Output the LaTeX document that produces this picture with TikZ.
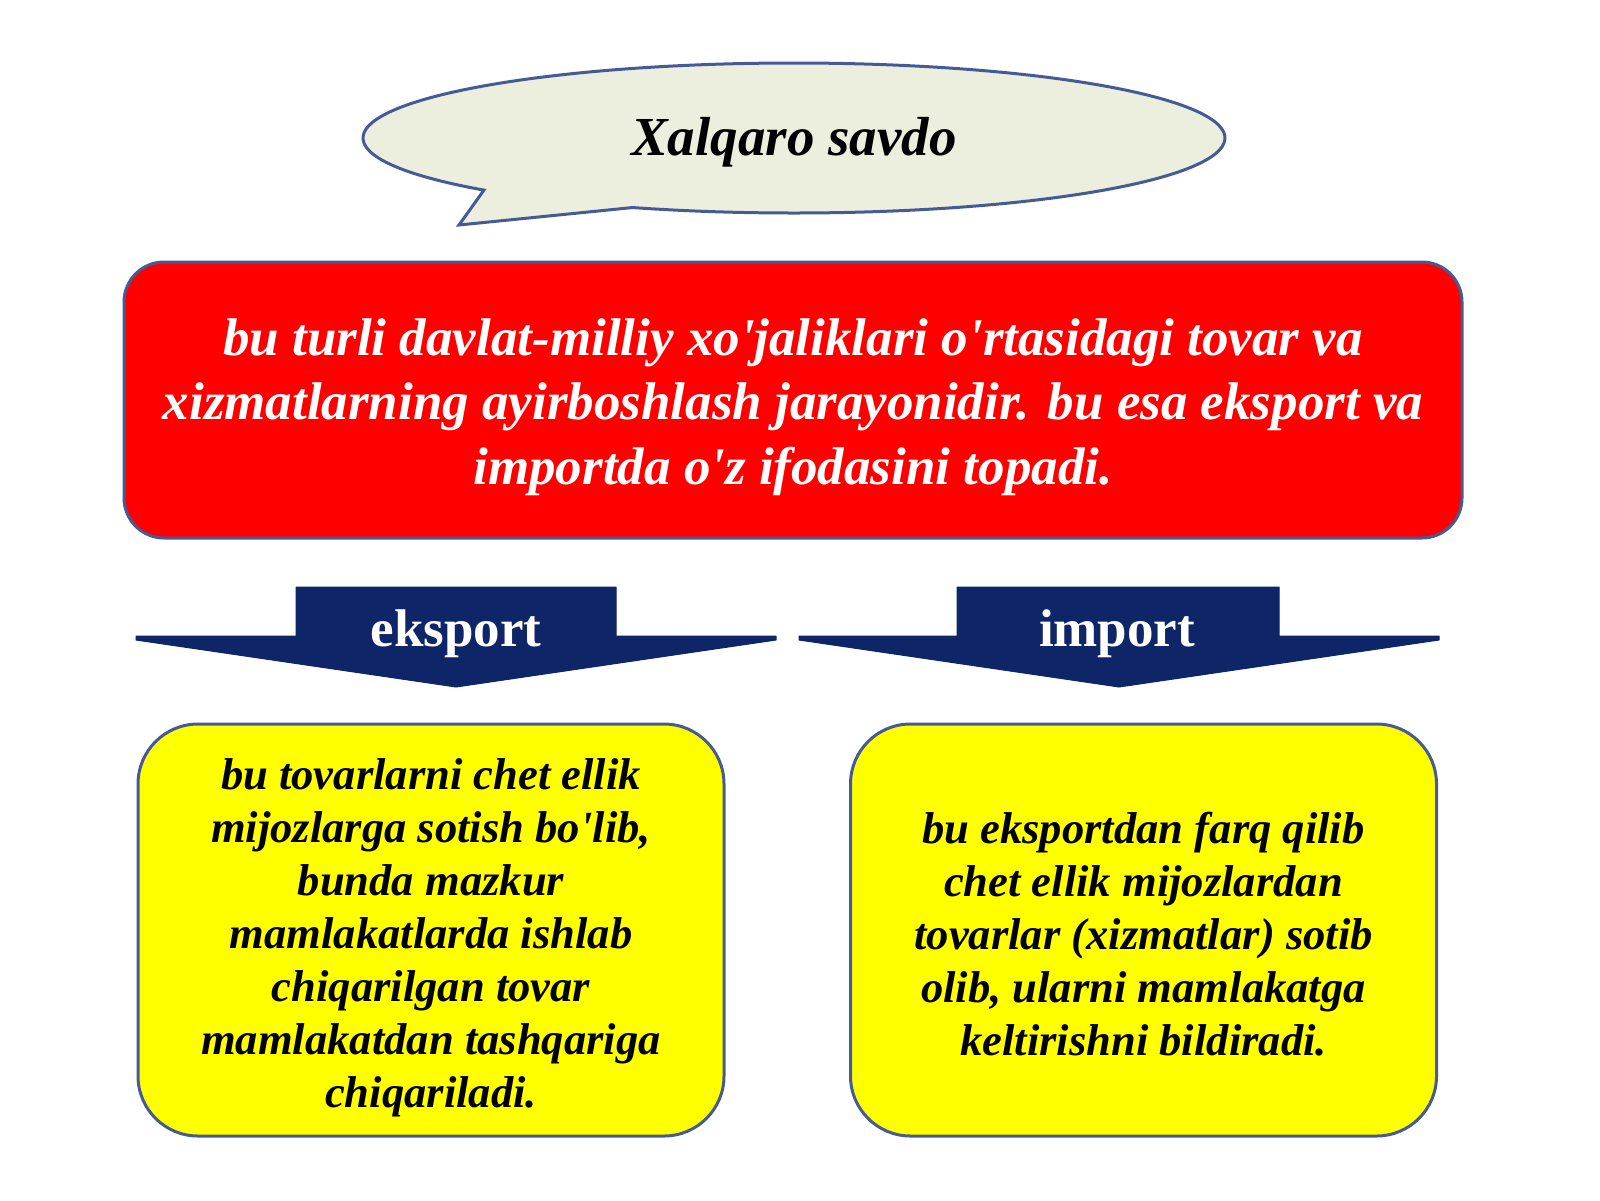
\documentclass[tikz,border=0pt]{standalone}
\usepackage{fontspec}
\setmainfont{Liberation Serif}
\usetikzlibrary{calc}
\definecolor{edgeblue}{RGB}{70,90,150}
\definecolor{navy}{RGB}{14,38,104}
\definecolor{bubble}{RGB}{237,239,222}
\definecolor{redfill}{RGB}{255,0,0}
\definecolor{yellowfill}{RGB}{255,255,0}
\newcommand{\ap}{\textquotesingle}
\tikzset{
  redbox/.style={draw=edgeblue, line width=3pt, fill=redfill, rounded corners=40pt,
    minimum width=1338pt, minimum height=276pt, inner sep=0pt},
  redtext/.style={align=center, text=white,
    font=\fontsize{53}{64.5}\selectfont\bfseries\itshape, inner sep=0pt},
  yellowbox/.style={draw=edgeblue, line width=3pt, fill=yellowfill, rounded corners=60pt,
    minimum width=586pt, minimum height=412pt, inner sep=0pt},
  yellowtext/.style={align=center, text=black,
    font=\fontsize{44.6}{53}\selectfont\bfseries\itshape, inner sep=0pt},
  arrowshape/.style={fill=navy, draw=navy, line width=1pt, line join=round},
  arrowlabel/.style={text=white, font=\fontsize{53}{60}\selectfont\bfseries, inner sep=0pt},
  bubbleshape/.style={draw=edgeblue, line width=3pt, fill=bubble, line join=miter},
  titletext/.style={font=\fontsize{55}{60}\selectfont\bfseries\itshape, inner sep=0pt}
}
\begin{document}
\begin{tikzpicture}[x=1pt,y=-1pt]
\useasboundingbox (0,0) rectangle (1600,1200);
% speech bubble
\coordinate (bc) at (794,138);
\coordinate (tip) at (459,225);
\draw[bubbleshape] (tip) -- ($(bc)+(136:431 and 75)$) arc[start angle=136, end angle=472, x radius=431, y radius=75] -- cycle;
\node[titletext] (title) at (794,142) {Xalqaro savdo};
% red definition box
\node[redbox] (def) at (793,400) {};
\node[redtext] (deftext) at (793,407) {bu turli davlat-milliy xo\ap jaliklari o\ap rtasidagi tovar va\\xizmatlarning ayirboshlash jarayonidir. bu esa eksport va\\importda o\ap z ifodasini topadi.};
% arrows
\draw[arrowshape] (136,636) -- (296,636) -- (296,587) -- (616,587) -- (616,636) -- (776,636) -- (776,640) -- (456,687) -- (136,640) -- cycle;
\node[arrowlabel] (eks) at (456,634) {eksport};
\draw[arrowshape] (799,636) -- (957,636) -- (957,587) -- (1279,587) -- (1279,636) -- (1439,636) -- (1439,640) -- (1119,687) -- (799,640) -- cycle;
\node[arrowlabel] (imp) at (1117,634) {import};
% yellow boxes
\node[yellowbox] (left) at (431,930) {};
\node[yellowtext] (lefttext) at (431,938) {bu tovarlarni chet ellik\\mijozlarga sotish bo\ap lib,\\bunda mazkur\\mamlakatlarda ishlab\\chiqarilgan tovar\\mamlakatdan tashqariga\\chiqariladi.};
\node[yellowbox] (right) at (1143.5,930) {};
\node[yellowtext] (righttext) at (1143.5,934) {bu eksportdan farq qilib\\chet ellik mijozlardan\\tovarlar (xizmatlar) sotib\\olib, ularni mamlakatga\\keltirishni bildiradi.};
\end{tikzpicture}
\end{document}
